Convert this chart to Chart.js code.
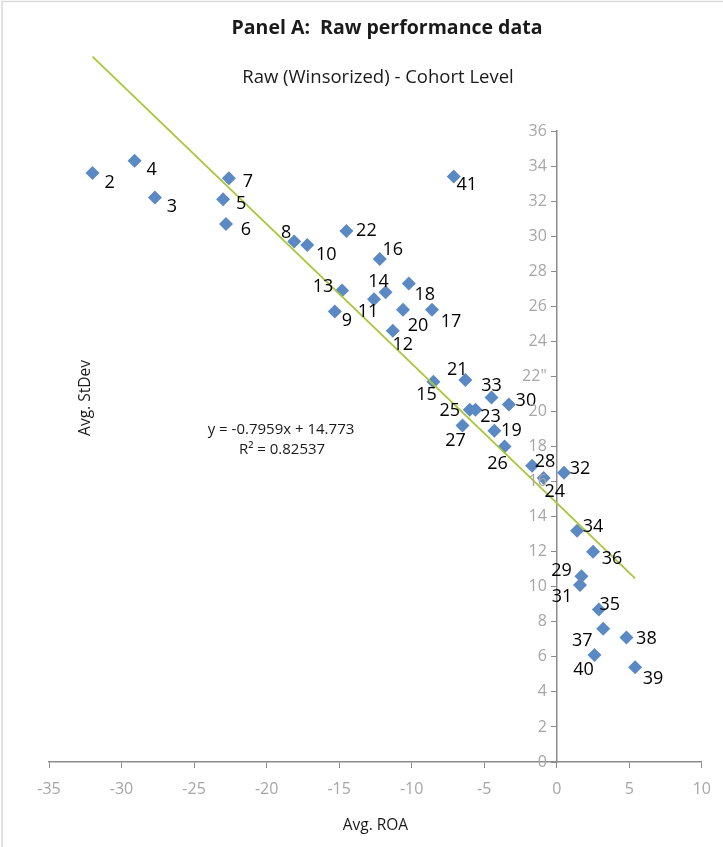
<!DOCTYPE html>
<html>
<head>
<meta charset="utf-8">
<script src="https://cdn.jsdelivr.net/npm/chart.js@4"></script>
<style>
  html, body { margin: 0; padding: 0; background: #fff; }
  #wrap { width: 723px; height: 847px; }
</style>
</head>
<body>
<div id="wrap"><canvas id="chart" width="723" height="847"></canvas></div>
<script>
// cohort ids, avg ROA (x) and avg StDev (y)
const cohortIds = [2, 4, 3, 7, 5, 6, 8, 10, 22, 16, 13, 9, 14, 11, 18, 20, 17, 12, 41,
    15, 21, 33, 30, 25, 23, 27, 19, 26, 28, 24, 32, 34, 36, 29, 31, 35, 37, 38, 40, 39];
const avgRoa = [-32.0, -29.1, -27.7, -22.6, -23.0, -22.8, -18.1, -17.2, -14.5, -12.2, -14.8, -15.3,
    -11.8, -12.6, -10.2, -10.6, -8.6, -11.3, -7.1,
    -8.5, -6.3, -4.5, -3.3, -6.0, -5.6, -6.5, -4.3, -3.6, -1.7, -0.9, 0.5, 1.4, 2.5, 1.7, 1.6,
    2.9, 3.2, 4.8, 2.6, 5.4];
const avgStdev = [33.6, 34.3, 32.2, 33.3, 32.1, 30.7, 29.7, 29.5, 30.3, 28.7, 26.9, 25.7,
    26.8, 26.4, 27.3, 25.8, 25.8, 24.6, 33.4,
    21.7, 21.8, 20.8, 20.4, 20.1, 20.1, 19.2, 18.9, 18.0, 16.9, 16.2, 16.5, 13.2, 12.0, 10.6, 10.1,
    8.7, 7.6, 7.1, 6.1, 5.4];

// linear trend reported on the chart
const trendSlope = -0.7959;
const trendIntercept = 14.773;
const trendText = ['y = -0.7959x + 14.773', 'R\u00B2 = 0.82537'];

const xTicks = { min: -35, max: 10, step: 5 };
const yTicks = { min: 0, max: 36, step: 2 };

// where each data label sits relative to its marker (px)
const labelOffset = {
    2: [17, 10], 4: [17, 9], 3: [17, 9], 7: [19, 4], 5: [18, 5], 6: [20, 6],
    8: [-8, -9], 10: [19, 10], 22: [20, 0], 16: [13, -9], 13: [-19, -4], 9: [12, 9],
    14: [-7, -10], 11: [-6, 13], 18: [16, 11], 20: [15, 16], 17: [19, 12], 12: [10, 14],
    41: [13, 8], 15: [-7, 13], 21: [-8, -10], 33: [0, -12], 30: [17, -4], 25: [-20, 1],
    23: [15, 7], 27: [-7, 15], 19: [17, 0], 26: [-7, 17], 28: [13, -4], 24: [11, 14],
    32: [16, -4], 34: [16, -4], 36: [19, 7], 29: [-20, -5], 31: [-18, 12], 35: [11, -5],
    37: [-21, 12], 38: [20, 1], 40: [-11, 15], 39: [18, 12]
};

const FONT = '"Open Sans", "Noto Sans", sans-serif';

const points = avgRoa.map((x, i) => ({ x: x, y: avgStdev[i] }));
const xLo = Math.min(...avgRoa);
const xHi = Math.max(...avgRoa);
const trendPoints = [xLo, xHi].map(x => ({ x: x, y: trendSlope * x + trendIntercept }));

function yLabel(v) {
    return v === 22 ? '22"' : String(v);
}

const frameAndText = {
    id: 'frameAndText',
    beforeDraw(chart) {
        const ctx = chart.ctx;
        ctx.save();
        ctx.fillStyle = '#fff';
        ctx.fillRect(0, 0, chart.width, chart.height);
        ctx.strokeStyle = '#d9d9d9';
        ctx.lineWidth = 1.5;
        ctx.strokeRect(2, 1.5, chart.width + 10, chart.height + 10);
        ctx.restore();
    },
    afterDraw(chart) {
        const ctx = chart.ctx;
        const xs = chart.scales.x;
        const ys = chart.scales.y;
        ctx.save();

        // y tick labels sit left of the axis that crosses at x = 0
        ctx.font = '16px ' + FONT;
        ctx.fillStyle = '#a6a6a6';
        ctx.textAlign = 'right';
        ctx.textBaseline = 'middle';
        const axisX = xs.getPixelForValue(0);
        ys.ticks.forEach(t => {
            ctx.fillText(yLabel(t.value), axisX - 10, ys.getPixelForValue(t.value));
        });

        ctx.textAlign = 'center';
        ctx.fillStyle = '#1a1a1a';
        ctx.font = 'bold 19.5px ' + FONT;
        ctx.fillText('Panel A:  Raw performance data', 387, 28);
        ctx.font = '18.5px ' + FONT;
        ctx.fillText('Raw (Winsorized) - Cohort Level', 378, 78);

        ctx.font = '15px ' + FONT;
        ctx.fillText(trendText[0], 281, 430);
        ctx.fillText(trendText[1], 282, 450);

        ctx.font = '15.5px ' + FONT;
        ctx.translate(86, 398);
        ctx.rotate(-Math.PI / 2);
        ctx.fillText('Avg. StDev', 0, 0);
        ctx.restore();
    }
};

const pointLabels = {
    id: 'pointLabels',
    afterDatasetsDraw(chart) {
        const ctx = chart.ctx;
        const meta = chart.getDatasetMeta(1);
        ctx.save();
        ctx.font = '18px ' + FONT;
        ctx.fillStyle = '#000';
        ctx.textAlign = 'center';
        ctx.textBaseline = 'middle';
        meta.data.forEach((pt, i) => {
            const id = cohortIds[i];
            const off = labelOffset[id] || [16, 8];
            ctx.fillText(String(id), pt.x + off[0], pt.y + off[1]);
        });
        ctx.restore();
    }
};

new Chart(document.getElementById('chart'), {
    type: 'scatter',
    data: {
        datasets: [
            {
                label: 'Linear trend',
                type: 'line',
                data: trendPoints,
                borderColor: '#a9c63a',
                borderWidth: 1.8,
                pointRadius: 0,
                fill: false,
                clip: false,
                order: 0
            },
            {
                label: 'Cohorts',
                data: points,
                pointStyle: 'rectRot',
                pointRadius: 7,
                pointHoverRadius: 7,
                backgroundColor: '#5a89c4',
                borderColor: '#5a89c4',
                borderWidth: 0,
                order: 1
            }
        ]
    },
    options: {
        responsive: false,
        animation: false,
        layout: { padding: { left: 49, right: 15, top: 131, bottom: 0 } },
        plugins: {
            legend: { display: false },
            tooltip: { enabled: false }
        },
        scales: {
            x: {
                type: 'linear',
                position: 'bottom',
                min: xTicks.min,
                max: xTicks.max,
                afterFit: s => { s.height = 85; },
                ticks: {
                    stepSize: xTicks.step,
                    padding: 12,
                    color: '#a6a6a6',
                    font: { family: FONT, size: 16 },
                    maxRotation: 0
                },
                grid: { drawOnChartArea: false, drawTicks: true, tickLength: 6, color: '#8c8c8c' },
                border: { display: true, color: '#8c8c8c', width: 1.5 },
                title: {
                    display: true,
                    text: 'Avg. ROA',
                    color: '#1a1a1a',
                    font: { family: FONT, size: 15.5 },
                    padding: { top: 0, bottom: 12 }
                }
            },
            y: {
                type: 'linear',
                position: { x: 0 },
                min: yTicks.min,
                max: yTicks.max,
                ticks: {
                    stepSize: yTicks.step,
                    display: false
                },
                grid: { drawOnChartArea: false, drawTicks: true, tickLength: 5, color: '#8c8c8c' },
                border: { display: true, color: '#8c8c8c', width: 1.5 }
            }
        }
    },
    plugins: [frameAndText, pointLabels]
});
</script>
</body>
</html>
